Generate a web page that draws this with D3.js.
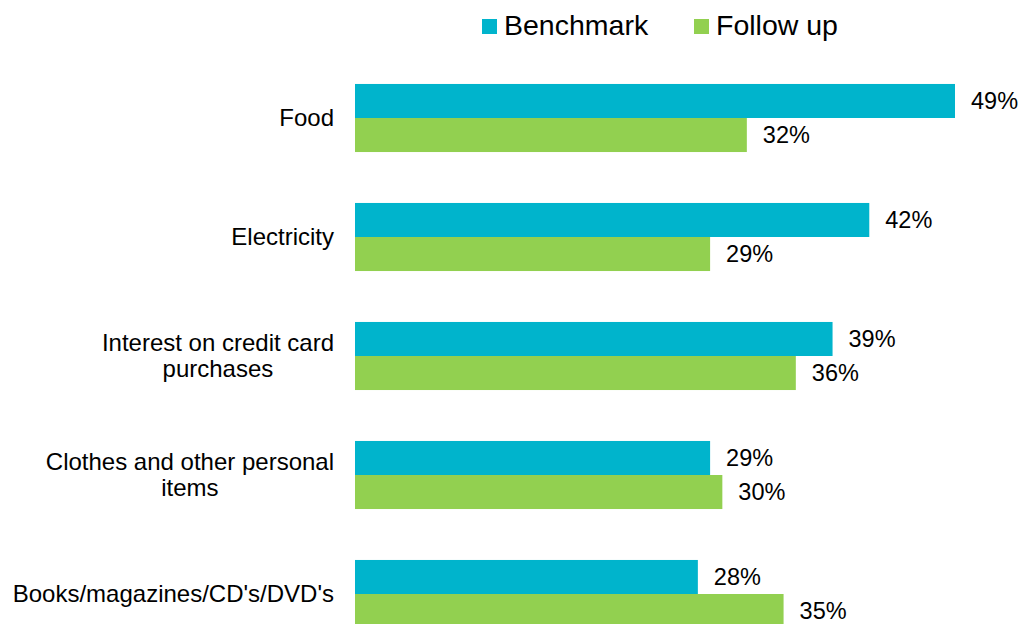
<!DOCTYPE html>
<html>
<head>
<meta charset="utf-8">
<script src="https://cdn.jsdelivr.net/npm/d3@7"></script>
<style>
  html, body { margin: 0; padding: 0; background: #fff; }
  svg { display: block; font-family: "Liberation Sans", Arial, sans-serif; }
</style>
</head>
<body>
<svg id="chart" width="1020" height="624"></svg>
<script>
// Expense categories (each entry is a list of label lines)
const categories = ["Food", "Electricity", "Interest on credit card purchases",
  "Clothes and other personal items", "Books/magazines/CD's/DVD's"];
const categoryLines = [
  ["Food"],
  ["Electricity"],
  ["Interest on credit card", "purchases"],
  ["Clothes and other personal", "items"],
  ["Books/magazines/CD's/DVD's"]
];
const seriesNames = ["Benchmark", "Follow up"];
const benchmark = [49, 42, 39, 29, 28];
const followUp = [32, 29, 36, 30, 35];
const seriesColors = ["#00B4CC", "#92D050"];

const svg = d3.select("#chart");

const x = d3.scaleLinear().domain([0, 49]).range([355, 955]);
const y = d3.scaleBand().domain(categories).range([58.5, 653.5])
  .paddingInner(0.428).paddingOuter(0.214);
const ySub = d3.scaleBand().domain(seriesNames).range([0, y.bandwidth()]);

const rows = categories.map((c, i) => ({
  cat: c, lines: categoryLines[i],
  vals: [benchmark[i], followUp[i]]
}));

// Bars
const groups = svg.append("g").selectAll("g").data(rows).join("g")
  .attr("transform", d => `translate(0,${y(d.cat)})`);

groups.selectAll("rect")
  .data(d => d.vals.map((v, j) => ({ v, s: seriesNames[j], j })))
  .join("rect")
  .attr("x", x(0))
  .attr("y", d => ySub(d.s))
  .attr("width", d => x(d.v) - x(0))
  .attr("height", ySub.bandwidth())
  .attr("fill", d => seriesColors[d.j]);

// Value labels
groups.selectAll("text.val")
  .data(d => d.vals.map((v, j) => ({ v, s: seriesNames[j] })))
  .join("text")
  .attr("class", "val")
  .attr("x", d => x(d.v) + 16)
  .attr("y", d => ySub(d.s) + ySub.bandwidth() / 2 + 8)
  .attr("font-size", 23.5)
  .attr("fill", "#000")
  .text(d => d.v + "%");

// Category labels: wrapped lines, centred within a block right-aligned to the axis
const lh = 26, capHalf = 8.3, labelRight = 334;
const labelG = svg.append("g");
rows.forEach(r => {
  const cy = y(r.cat) + y.bandwidth() / 2;
  const t = labelG.append("text")
    .attr("font-size", 24)
    .attr("fill", "#000");
  const spans = r.lines.map((ln, i) => t.append("tspan")
    .attr("y", cy + capHalf - (r.lines.length - 1) * lh / 2 + i * lh)
    .text(ln));
  const widths = spans.map(s => s.node().getComputedTextLength());
  const maxW = d3.max(widths);
  const centre = labelRight - maxW / 2;
  spans.forEach((s, i) => s.attr("x", centre - widths[i] / 2));
});

// Legend
const legend = svg.append("g");
const legendX = [482, 694];
seriesNames.forEach((name, i) => {
  legend.append("rect")
    .attr("x", legendX[i]).attr("y", 19)
    .attr("width", 15).attr("height", 15)
    .attr("fill", seriesColors[i]);
  legend.append("text")
    .attr("x", legendX[i] + 22).attr("y", 35)
    .attr("font-size", 28.5)
    .attr("fill", "#000")
    .text(name);
});
</script>
</body>
</html>
